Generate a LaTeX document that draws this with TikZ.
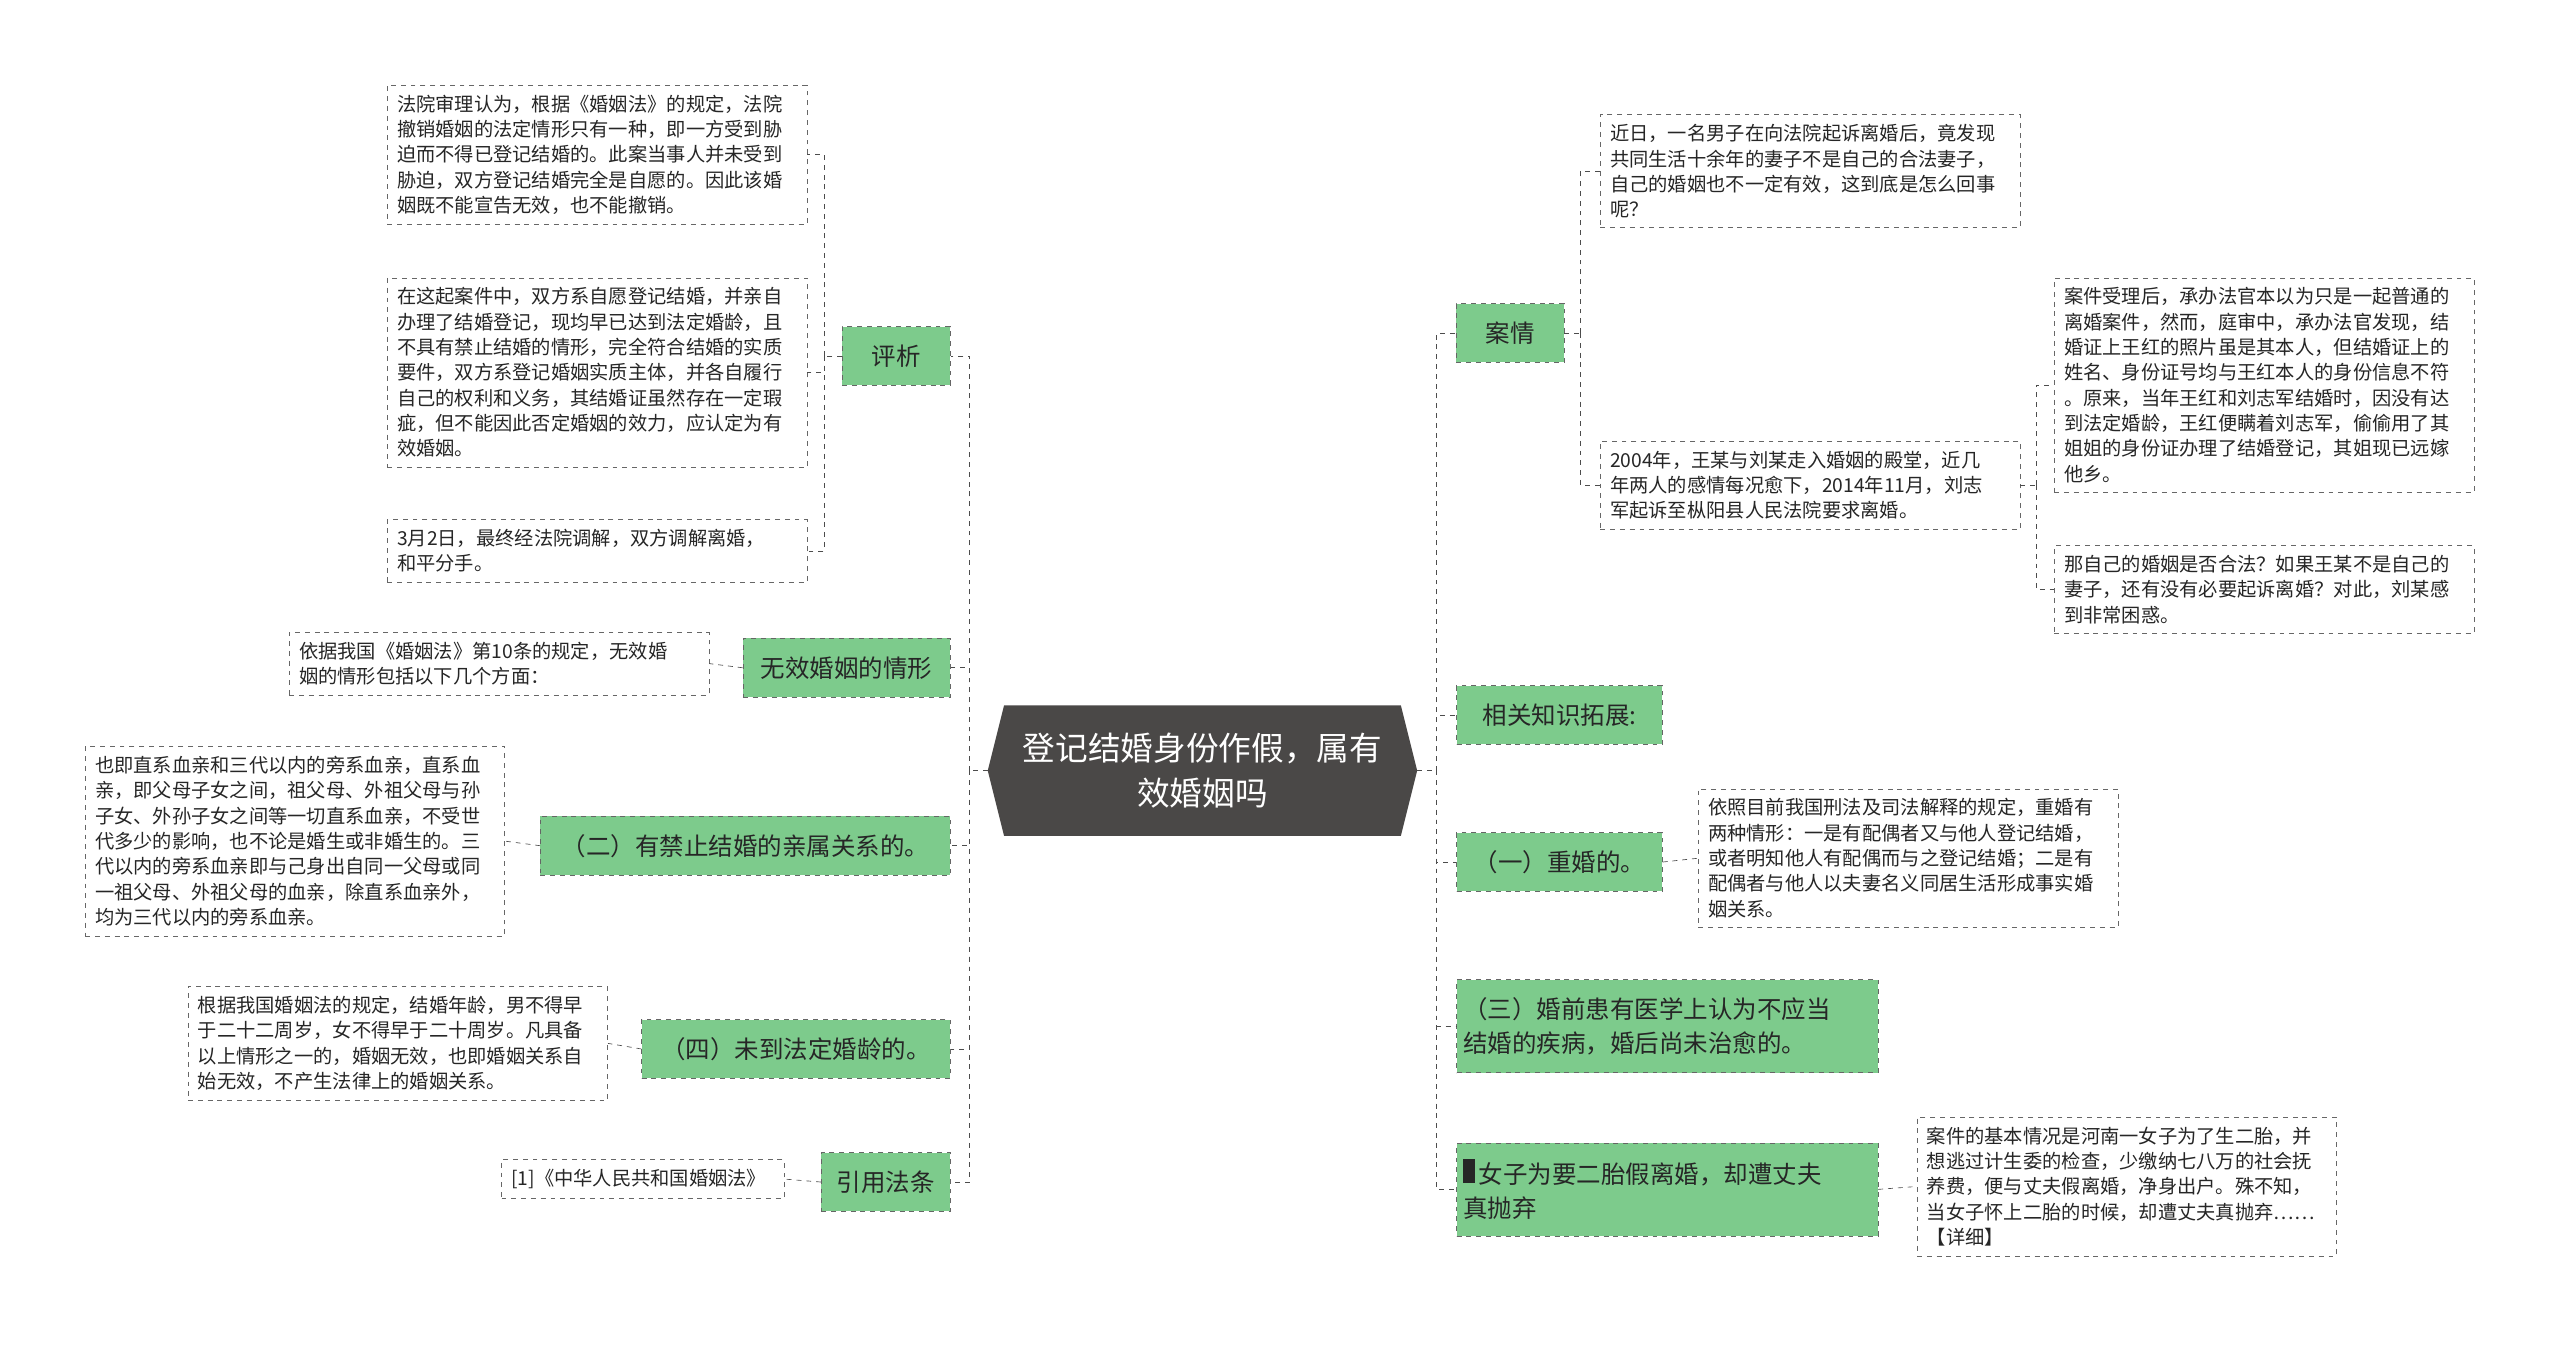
\documentclass[tikz,border=0pt]{standalone}
\usepackage{fontspec}
\setmainfont{Noto Sans CJK SC}
\usetikzlibrary{calc}
\definecolor{gfill}{HTML}{7DCB8C}
\definecolor{cdark}{HTML}{4A4847}
\definecolor{lgray}{HTML}{666666}
\begin{document}
\begin{tikzpicture}[x=1pt,y=1pt,
  g/.style={draw=lgray,dashed,fill=gfill,font=\fontsize{15}{21}\selectfont,inner sep=4pt,minimum height=36,align=left,text=black!85},
  leaf/.style={draw=lgray,dashed,fill=white,font=\fontsize{11.8}{15.5}\selectfont,inner sep=6pt,text width=245pt,align=left,text=black!85,anchor=north west},
  ln/.style={draw=black!70,dashed,thin}]
\useasboundingbox (0,0) rectangle (1568,826);
\fill[white] (0,0) rectangle (1568,826);
% center
\fill[cdark] (605,354) -- (615,394) -- (858,394) -- (868,354) -- (858,314) -- (615,314) -- cycle;
\node[text=white,font=\fontsize{20}{28}\selectfont,align=center] (c) at (736.5,354) {登记结婚身份作假，属有\\效婚姻吗};
\coordinate (cw) at (605,354);
\coordinate (ce) at (868,354);
\coordinate (lt) at (594,354);
\coordinate (rt) at (880,354);
% left branch nodes
\node[g,minimum width=66] (pingxi) at (549,608) {评析};
\node[g,minimum width=127] (wuxiao) at (518.5,417) {无效婚姻的情形};
\node[g,minimum width=251] (er) at (456.5,308) {（二）有禁止结婚的亲属关系的。};
\node[g,minimum width=189] (si) at (487.5,183.5) {（四）未到法定婚龄的。};
\node[g,minimum width=79] (yin) at (542.5,102) {引用法条};
% right branch nodes
\node[g,minimum width=66] (anqing) at (925,622) {案情};
\node[g,minimum width=126,anchor=west] (xg) at (892,388) {相关知识拓展:};
\node[g,minimum width=126,anchor=west] (yi) at (892,298) {（一）重婚的。};
\node[g,text width=250pt,minimum height=57,anchor=west] (san) at (892,197.5) {（三）婚前患有医学上认为不应当\\结婚的疾病，婚后尚未治愈的。};
\node[g,text width=250pt,minimum height=57,anchor=west] (nv) at (892,97.5) {\rule{7pt}{15pt}\,女子为要二胎假离婚，却遭丈夫\\真抛弃};
% trunks
\draw[ln] (cw) -- (lt);
\foreach \n in {pingxi,wuxiao,er,si,yin} \draw[ln] (lt) |- (\n.east);
\draw[ln] (ce) -- (rt);
\foreach \n in {anqing,xg,yi,san,nv} \draw[ln] (rt) |- (\n.west);
% leaves
\node[leaf] (b1) at (237,774) {法院审理认为，根据《婚姻法》的规定，法院\\撤销婚姻的法定情形只有一种，即一方受到胁\\迫而不得已登记结婚的。此案当事人并未受到\\胁迫，双方登记结婚完全是自愿的。因此该婚\\姻既不能宣告无效，也不能撤销。};
\node[leaf] (b2) at (237,656) {在这起案件中，双方系自愿登记结婚，并亲自\\办理了结婚登记，现均早已达到法定婚龄，且\\不具有禁止结婚的情形，完全符合结婚的实质\\要件，双方系登记婚姻实质主体，并各自履行\\自己的权利和义务，其结婚证虽然存在一定瑕\\疵，但不能因此否定婚姻的效力，应认定为有\\效婚姻。};
\node[leaf] (b3) at (237,508) {3月2日，最终经法院调解，双方调解离婚，\\和平分手。};
\node[leaf] (b4) at (177,439) {依据我国《婚姻法》第10条的规定，无效婚\\姻的情形包括以下几个方面：};
\node[leaf] (b5) at (52,369) {也即直系血亲和三代以内的旁系血亲，直系血\\亲，即父母子女之间，祖父母、外祖父母与孙\\子女、外孙子女之间等一切直系血亲，不受世\\代多少的影响，也不论是婚生或非婚生的。三\\代以内的旁系血亲即与己身出自同一父母或同\\一祖父母、外祖父母的血亲，除直系血亲外，\\均为三代以内的旁系血亲。};
\node[leaf] (b6) at (115,222) {根据我国婚姻法的规定，结婚年龄，男不得早\\于二十二周岁，女不得早于二十周岁。凡具备\\以上情形之一的，婚姻无效，也即婚姻关系自\\始无效，不产生法律上的婚姻关系。};
\node[leaf,text width=161pt] (b7) at (307,116) {[1]《中华人民共和国婚姻法》};
\node[leaf] (b8) at (980,756) {近日，一名男子在向法院起诉离婚后，竟发现\\共同生活十余年的妻子不是自己的合法妻子，\\自己的婚姻也不一定有效，这到底是怎么回事\\呢？};
\node[leaf] (b9) at (980,556) {2004年，王某与刘某走入婚姻的殿堂，近几\\年两人的感情每况愈下，2014年11月，刘志\\军起诉至枞阳县人民法院要求离婚。};
\node[leaf] (b10) at (1258,656) {案件受理后，承办法官本以为只是一起普通的\\离婚案件，然而，庭审中，承办法官发现，结\\婚证上王红的照片虽是其本人，但结婚证上的\\姓名、身份证号均与王红本人的身份信息不符\\。原来，当年王红和刘志军结婚时，因没有达\\到法定婚龄，王红便瞒着刘志军，偷偷用了其\\姐姐的身份证办理了结婚登记，其姐现已远嫁\\他乡。};
\node[leaf] (b11) at (1258,492) {那自己的婚姻是否合法？如果王某不是自己的\\妻子，还有没有必要起诉离婚？对此，刘某感\\到非常困惑。};
\node[leaf] (b12) at (1040,343) {依照目前我国刑法及司法解释的规定，重婚有\\两种情形：一是有配偶者又与他人登记结婚，\\或者明知他人有配偶而与之登记结婚；二是有\\配偶者与他人以夫妻名义同居生活形成事实婚\\姻关系。};
\node[leaf] (b13) at (1174,142) {案件的基本情况是河南一女子为了生二胎，并\\想逃过计生委的检查，少缴纳七八万的社会抚\\养费，便与丈夫假离婚，净身出户。殊不知，\\当女子怀上二胎的时候，却遭丈夫真抛弃……\\【详细】};
% leaf connectors
\coordinate (pv) at ($(pingxi.west)+(-11,0)$);
\draw[ln] (pingxi.west) -- (pv);
\foreach \n in {b1,b2,b3} \draw[ln] (pv) |- (\n.east);
\draw[ln] (wuxiao.west) -- (b4.east);
\draw[ln] (er.west) -- (b5.east);
\draw[ln] (si.west) -- (b6.east);
\draw[ln] (yin.west) -- (b7.east);
\coordinate (av) at ($(anqing.east)+(10,0)$);
\draw[ln] (anqing.east) -- (av);
\foreach \n in {b8,b9} \draw[ln] (av) |- (\n.west);
\coordinate (nv9) at ($(b9.east)+(10,0)$);
\draw[ln] (b9.east) -- (nv9);
\foreach \n in {b10,b11} \draw[ln] (nv9) |- (\n.west);
\draw[ln] (yi.east) -- (b12.west);
\draw[ln] (nv.east) -- (b13.west);
\end{tikzpicture}
\end{document}
